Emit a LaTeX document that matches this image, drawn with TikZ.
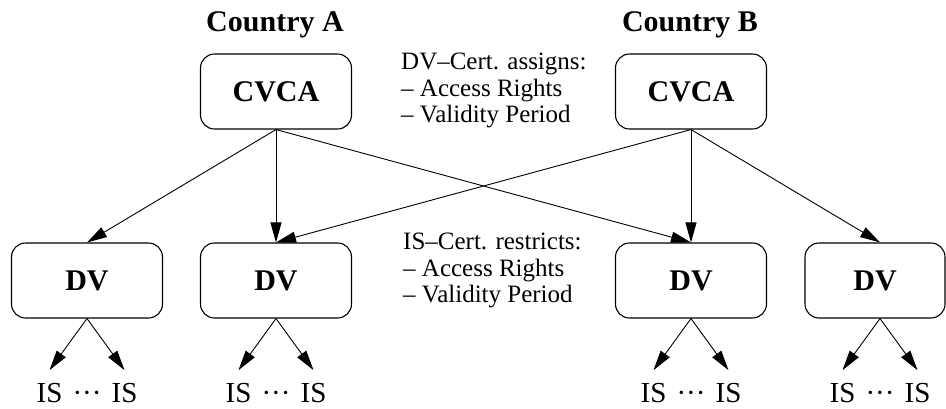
\documentclass[tikz,border=0pt]{standalone}
\usepackage{fontspec}
\setmainfont{Liberation Serif}
\usetikzlibrary{positioning,arrows.meta}

\tikzset{
  box/.style={draw, rounded corners=14pt, line width=1.1pt,
              minimum width=151pt, minimum height=75pt, inner sep=0pt,
              font=\fontsize{30}{36}\selectfont\bfseries},
  country/.style={anchor=base, inner sep=0pt, font=\fontsize{30}{36}\selectfont\bfseries},
  cert/.style={anchor=north west, align=left, inner sep=0pt,
               font=\fontsize{25}{26.5}\selectfont},
  leaf/.style={anchor=base, inner xsep=0pt, inner ysep=13pt,
               font=\fontsize{29}{34}\selectfont},
  link/.style={-{Triangle[length=20pt,width=11pt]}, line width=0.9pt},
}

\begin{document}
\begin{tikzpicture}[x=1pt, y=1pt]
\useasboundingbox (0,0) rectangle (946,-408);

% certification authorities
\node    (cvcaA)    [box]    at (276,-91.5)    {CVCA};
\node    (cvcaB)    [box]    at (691,-91.5)    {CVCA};
\node    (ctryA)    [country] at (cvcaA.north) [xshift=-1pt, yshift=21.5pt]    {Country A};
\node    (ctryB)    [country] at (cvcaB.north) [xshift=-1pt, yshift=21.5pt]    {Country B};

% document verifiers
\node    (dv1)    [box]    at (87,-280.5)     {DV};
\node    (dv2)    [box]    at (276,-280.5)    {DV};
\node    (dv3)    [box]    at (691,-280.5)    {DV};
\node    (dv4)    [box, minimum width=140pt]    at (875,-280.5)    {DV};

\draw    [link]    (cvcaA.south) -- (dv1.north);
\draw    [link]    (cvcaA.south) -- (dv2.north);
\draw    [link]    (cvcaA.south) -- (dv3.north);
\draw    [link]    (cvcaB.south) -- (dv2.north);
\draw    [link]    (cvcaB.south) -- (dv3.north);
\draw    [link]    (cvcaB.south) -- ([xshift=5pt]dv4.north);

% inspection systems
\foreach \d in {dv1,dv2,dv3} {
  \node    (\d l)    [leaf]    at (\d.south) [xshift=-37.5pt, yshift=-84pt]    {IS};
  \node    (\d r)    [leaf]    at (\d.south) [xshift=37.5pt, yshift=-84pt]     {IS};
  \node    (\d m)    [leaf]    at (\d.south) [yshift=-84pt]                    {···};
  \draw    [link]    (\d.south) -- (\d l.north);
  \draw    [link]    (\d.south) -- (\d r.north);
}
\node    (dv4l)    [leaf]    at ([xshift=5pt]dv4.south) [xshift=-37.5pt, yshift=-84pt]    {IS};
\node    (dv4r)    [leaf]    at ([xshift=5pt]dv4.south) [xshift=37.5pt, yshift=-84pt]     {IS};
\node    (dv4m)    [leaf]    at ([xshift=5pt]dv4.south) [yshift=-84pt]                    {···};
\draw    [link]    ([xshift=5pt]dv4.south) -- (dv4l.north);
\draw    [link]    ([xshift=5pt]dv4.south) -- (dv4r.north);

% certificate notes
\node    (dvcert)    [cert]    at (401,-53)     {DV--Cert. assigns:\\-- Access Rights\\-- Validity Period};
\node    (iscert)    [cert]    at (403,-233)    {IS--Cert. restricts:\\-- Access Rights\\-- Validity Period};
\end{tikzpicture}
\end{document}
